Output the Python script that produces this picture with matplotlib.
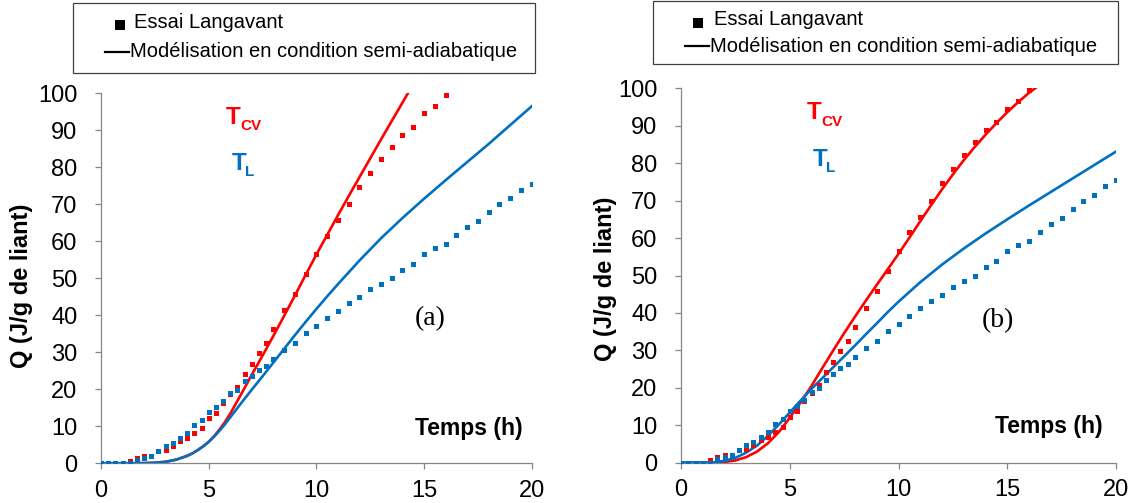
import numpy as np
import matplotlib
matplotlib.use("Agg")
import matplotlib.pyplot as plt
from matplotlib.lines import Line2D
from matplotlib.patches import Rectangle

plt.rcParams["font.family"] = ["Liberation Sans", "DejaVu Sans"]

W, H = 1134, 503
RED = "#ff0000"
BLUE = "#0070c0"
GREY = "#868686"

# ---- essai Langavant (same in both panels) ----
t_exp_cv = [0, 0.33, 0.67, 1.0, 1.33, 1.67, 2.0,
            3.0, 3.33, 3.67, 4.0, 4.33, 4.67, 5.0, 5.33, 5.67, 6.0, 6.33, 6.67, 7.0, 7.33, 7.67, 8.0,
            8.5, 9.0, 9.5, 10.0, 10.5, 11.0, 11.5, 12.0, 12.5, 13.0, 13.5, 14.0, 14.5, 15.0, 15.5, 16.0]
q_exp_cv = [0, 0, 0, 0, 0.6, 1.5, 2.1,
            3.7, 4.8, 6.0, 6.9, 8.3, 9.6, 12.3, 13.7, 16.4, 18.6, 20.7, 24.1, 26.8, 29.8, 32.5, 36.2,
            41.4, 45.8, 51.2, 56.5, 61.5, 65.7, 70.0, 74.6, 78.4, 82.2, 85.6, 88.8, 91.0, 94.6, 96.7, 99.6]

t_exp_l = [0, 0.33, 0.67, 1.0, 1.33,
           1.67, 2.0, 2.33, 2.67, 3.0, 3.33, 3.67, 4.0, 4.33, 4.67, 5.0, 5.33, 5.67, 6.0, 6.33, 6.67,
           7.0, 7.33, 7.67, 8.0,
           8.5, 9.0, 9.5, 10.0, 10.5, 11.0, 11.5, 12.0, 12.5, 13.0, 13.5, 14.0, 14.5, 15.0, 15.5, 16.0,
           16.5, 17.0, 17.5, 18.0, 18.5, 19.0, 19.5, 20.0]
q_exp_l = [0, 0, 0, 0, 0,
           0.9, 1.5, 2.1, 3.4, 4.7, 5.6, 6.9, 8.3, 10.3, 11.7, 13.8, 15.2, 16.8, 18.9, 19.9, 22.2,
           23.6, 25.2, 26.3, 28.1,
           30.6, 32.5, 35.2, 37.1, 39.2, 41.2, 43.3, 44.9, 47.0, 48.4, 50.0, 52.2, 53.9, 56.6, 58.2, 59.3,
           61.7, 63.8, 65.4, 67.8, 70.0, 71.6, 74.0, 75.6]

# ---- modelisation, panel (a) ----
t_mod_a_cv = [0, 1, 2, 2.5, 3, 3.5, 4, 4.25, 4.5, 4.75, 5, 5.25, 5.5, 5.75, 6, 6.5, 7, 7.5, 8, 8.5, 9, 9.5, 10,
              10.5, 11, 11.5, 12, 12.5, 13, 13.5, 14, 14.25]
q_mod_a_cv = [0, 0, 0.05, 0.15, 0.4, 1.0, 2.0, 2.7, 3.6, 4.6, 5.8, 7.3, 9.1, 11.1, 13.4, 18.6, 23.9, 29.1, 34.4,
              39.8, 45.3, 50.9, 56.4, 61.7, 67, 72.2, 77.3, 82.4, 87.5, 92.5, 97.5, 100]
t_mod_a_l = [0, 1, 2, 2.5, 3, 3.5, 4, 4.25, 4.5, 4.75, 5, 5.25, 5.5, 5.75, 6, 6.5, 7, 7.5, 8, 8.5, 9, 9.5, 10,
             10.5, 11, 12, 13, 14, 15, 16, 17, 18, 19, 20]
q_mod_a_l = [0, 0, 0.05, 0.15, 0.4, 1.0, 2.0, 2.7, 3.6, 4.6, 5.8, 7.2, 8.8, 10.5, 12.4, 16.2, 19.9, 23.5, 27.2,
             30.9, 34.6, 38.2, 41.7, 45.1, 48.4, 54.8, 60.8, 66.3, 71.5, 76.5, 81.4, 86.3, 91.4, 96.5]

# ---- modelisation, panel (b) ----
t_mod_b_cv = [0, 1, 1.5, 2, 2.5, 3, 3.5, 4, 4.5, 5, 5.5, 6, 6.5, 7, 7.5, 8, 8.5, 9, 9.5, 10,
              10.5, 11, 11.5, 12, 12.5, 13, 13.5, 14, 14.5, 15, 15.5, 16, 16.4]
q_mod_b_cv = [0, 0, 0.05, 0.2, 0.6, 1.5, 3.0, 5.2, 8.2, 12.0, 16.1, 20.5, 25.3, 30.0, 34.6, 39.0, 43.3, 47.5,
              51.6, 55.8, 60.1, 64.5, 68.8, 73.0, 77.0, 80.8, 84.3, 87.6, 90.7, 93.6, 96.3, 98.8, 100.5]
t_mod_b_l = [0, 1, 1.5, 2, 2.5, 3, 3.5, 4, 4.5, 5, 5.5, 6, 6.5, 7, 7.5, 8, 8.5, 9, 9.5, 10,
             11, 12, 13, 14, 15, 16, 17, 18, 19, 20]
q_mod_b_l = [0, 0, 0.1, 0.5, 1.3, 2.7, 4.6, 7.2, 10.2, 13.4, 16.6, 19.7, 22.6, 25.5, 28.4, 31.3, 34.3, 37.2,
             40.2, 43.0, 48.2, 52.9, 57.2, 61.2, 65.0, 68.7, 72.3, 75.9, 79.5, 83.1]

x_ticks = [0, 5, 10, 15, 20]
y_ticks = list(range(0, 101, 10))
legend_labels = ["Essai Langavant", "Modélisation en condition semi-adiabatique"]


def fx(px):
    return px / W


def fy(py):
    return 1 - py / H


def draw_panel(ax, mod_cv, mod_l, tag, tag_xy, temps_xy, label_xy):
    ax.plot(mod_cv[0], mod_cv[1], color=RED, lw=1.9, zorder=2)
    ax.plot(mod_l[0], mod_l[1], color=BLUE, lw=1.9, zorder=3)
    ax.plot(t_exp_cv, q_exp_cv, "s", color=RED, ms=3.6, mew=0, zorder=4)
    ax.plot(t_exp_l, q_exp_l, "s", color=BLUE, ms=3.6, mew=0, zorder=5)

    ax.set_xlim(0, 20)
    ax.set_ylim(0, 100)
    ax.set_xticks(x_ticks)
    ax.set_yticks(y_ticks)
    for s in ["top", "right"]:
        ax.spines[s].set_visible(False)
    for s in ["left", "bottom"]:
        ax.spines[s].set_color(GREY)
        ax.spines[s].set_linewidth(0.9)
    ax.tick_params(axis="both", direction="out", length=4, width=0.9, color=GREY,
                   labelsize=17, labelcolor="black")
    ax.tick_params(axis="y", pad=13)
    ax.tick_params(axis="x", pad=8)

    ax.set_ylabel("Q (J/g de liant)", fontsize=17, fontweight="bold")
    ax.yaxis.set_label_coords(*label_xy)

    # T_CV et T_L
    ax.text(5.8, 91.8, "T", color=RED, fontsize=17.5, fontweight="bold")
    ax.text(6.45, 90.0, "CV", color=RED, fontsize=11, fontweight="bold")
    ax.text(6.05, 79.2, "T", color=BLUE, fontsize=17.5, fontweight="bold")
    ax.text(6.68, 77.7, "L", color=BLUE, fontsize=11, fontweight="bold")

    ax.text(tag_xy[0], tag_xy[1], tag, family="Liberation Serif", fontsize=20,
            ha="center", va="center")
    ax.text(temps_xy[0], temps_xy[1], "Temps (h)", fontsize=16.5, fontweight="bold",
            ha="center", va="baseline")


def draw_legend(fig, box, marker_xy, line_x, line_y, text_x):
    # box = (left, top, right, bottom) in pixels
    l, t, r, b = box
    fig.patches.append(Rectangle((fx(l), fy(b)), fx(r - l), (b - t) / H,
                                 transform=fig.transFigure, fill=False,
                                 edgecolor="#404040", lw=0.9))
    fig.add_artist(Line2D([fx(marker_xy[0])], [fy(marker_xy[1])], marker="s", ms=6.5,
                          color="black", mew=0, transform=fig.transFigure))
    fig.add_artist(Line2D([fx(line_x[0]), fx(line_x[1])], [fy(line_y), fy(line_y)],
                          color="black", lw=1.6, transform=fig.transFigure))
    fig.text(fx(text_x[0]), fy(marker_xy[1] - 3), legend_labels[0], fontsize=14.5,
             va="center", ha="left")
    fig.text(fx(text_x[1]), fy(line_y), legend_labels[1], fontsize=14.5,
             va="center", ha="left")


fig = plt.figure(figsize=(W / 100, H / 100), dpi=100)
ax_a = fig.add_axes([101 / W, 1 - 463.3 / H, 430.7 / W, 370 / H])
ax_b = fig.add_axes([681 / W, 1 - 462.7 / H, 435 / W, 374.4 / H])

draw_panel(ax_a, (t_mod_a_cv, q_mod_a_cv), (t_mod_a_l, q_mod_a_l), "(a)",
           (15.3, 39.2), (17.1, 7.7), (-0.157, 0.48))
draw_panel(ax_b, (t_mod_b_cv, q_mod_b_cv), (t_mod_b_l, q_mod_b_l), "(b)",
           (14.55, 38.0), (16.9, 7.9), (-0.147, 0.49))

draw_legend(fig, (73, 3, 535, 73), (120, 25), (105, 129), 51.5, (134, 130))
draw_legend(fig, (653, 1, 1118, 64), (698, 22.5), (685, 709), 46, (714, 710))

fig.savefig("out.png", dpi=100)
